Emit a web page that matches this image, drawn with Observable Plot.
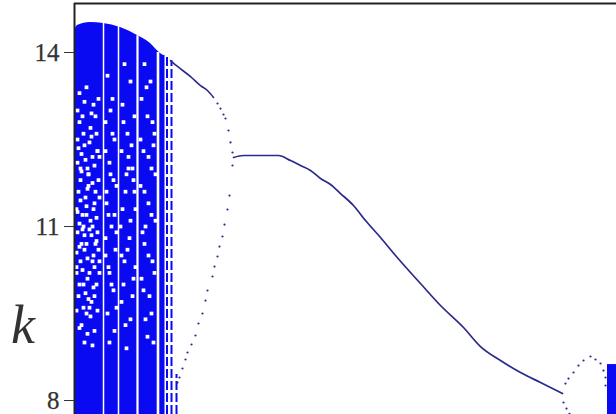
<!DOCTYPE html>
<html>
<head>
<meta charset="utf-8">
<script src="https://cdn.jsdelivr.net/npm/d3@7"></script>
<script src="https://cdn.jsdelivr.net/npm/@observablehq/plot@0.6"></script>
<style>
  html, body { margin: 0; padding: 0; background: #fff; }
  #wrap { position: relative; width: 616px; height: 414px; overflow: hidden; }
  #klabel { position: absolute; left: 11px; top: 298px; font: italic 54px "Liberation Serif", "Times New Roman", "DejaVu Serif", serif; color: #333; line-height: 1; }
  #wrap svg g[aria-label="y-axis tick label"],
  #wrap svg g[aria-label="y-axis tick label"] text { font-size: 25px !important; font-family: "Liberation Serif", "Times New Roman", "DejaVu Serif", serif !important; stroke: #333; stroke-width: 0.25px; }
</style>
</head>
<body>
<div id="wrap"><span id="klabel">k</span></div>
<script>
// ---- data (parameter on x, k on y) ----
const xDomain = [0, 5.42];
const yDomain = [7.759, 14.845];
const yTicks = [8, 11, 14];

// chaotic band: top envelope
const bandX   = [0.01, 0.03, 0.16, 0.29, 0.46, 0.63, 0.76, 0.86, 0.89];
const bandTop = [14.414, 14.466, 14.517, 14.500, 14.431, 14.293, 14.155, 13.983, 13.95];

// white windows inside the band
const gapX     = [0.29, 0.44, 0.63, 0.835];
const gapTop   = [14.50, 14.45, 14.29, 14.00];
const gapWidth = [1.5, 1.5, 2.2, 2.6];

// sparse columns right of the band
const colX   = [0.925, 0.97, 1.02];
const colTop = [13.93, 13.86, 8.45];

// white speckles inside the band
const speckX = [0.05,0.12,0.19,0.08,0.16,0.03,0.22,0.10,0.18,0.06,0.14,0.24,0.04,0.11,0.20,0.08,0.16,0.03,0.23,0.12,0.19,0.06,0.15,0.09,0.22,0.04,0.17,0.12,0.07,0.20,0.10,0.02,0.25,0.13,0.21,0.07,0.05,0.14,0.18,0.09,0.23,0.02,0.15,
  0.03,0.09,0.15,0.21,0.06,0.13,0.18,0.25,0.05,0.10,0.17,0.24,0.02,0.08,0.13,0.20,0.25,0.05,0.11,0.19,0.14,0.02,0.09,0.16,0.23,0.05,0.13,0.18,0.03,0.10,0.17,0.24,0.07,0.20,0.12,0.22,0.06,
  0.04,0.11,0.17,0.23,0.07,0.14,0.21,0.03,0.12,0.19,0.08,0.15,0.22,0.05,0.18,0.10,0.25,0.13,0.02,0.20,
  0.33,0.38,0.31,0.40,0.35,0.42,0.32,0.37,0.41,0.34,0.39,0.33,0.40,0.36,0.31,
  0.36,0.31,0.39,0.34,0.42,0.31,0.37,0.42,0.35,0.38,0.32,0.40,0.35,
  0.50,0.56,0.48,0.60,0.53,0.47,0.58,0.51,0.61,0.46,0.55,0.50,0.59,0.47,0.56,0.52,0.54,
  0.49,0.57,0.52,0.60,0.48,0.56,0.53,0.61,0.49,0.58,0.51,0.54,0.47,0.59,
  0.70,0.76,0.67,0.73,0.80,0.69,0.77,0.66,0.74,0.81,0.70,0.78,0.67,0.75,0.71,0.79,
  0.72,0.78,0.66,0.74,0.81,0.70,0.77,0.68,0.74,0.80,0.69,0.77,0.73,0.71,0.79];
const speckY = [13.3,13.4,13.1,12.9,12.7,12.5,12.6,12.4,12.2,12.0,11.9,11.8,11.6,11.5,11.4,11.2,11.1,10.9,10.9,10.7,10.5,10.4,10.2,10.0,10.0,9.8,9.7,9.5,9.3,9.2,9.0,11.3,12.2,12.0,10.7,10.7,12.8,11.7,11.0,11.0,12.3,10.2,9.6,
  12.1,12.6,12.45,12.9,11.8,11.65,11.75,11.5,11.05,10.85,10.85,10.6,10.55,10.25,10.45,10.3,10.2,10.0,9.85,9.95,9.75,9.55,9.6,9.45,9.55,9.25,9.15,8.95,13.0,13.15,12.95,13.2,12.25,12.05,11.35,11.15,11.45,
  12.35,12.15,12.55,12.3,11.95,11.9,11.6,11.25,11.2,11.3,10.95,10.95,10.75,10.65,10.4,10.6,10.4,10.1,10.3,9.8,
  13.6,13.2,12.8,12.5,12.1,11.7,11.4,11.0,10.6,10.3,9.9,9.5,9.2,11.9,10.8,
  13.0,12.3,11.8,11.2,10.9,10.5,10.0,9.6,9.0,12.6,11.6,11.2,10.2,
  13.8,13.5,13.1,12.9,12.6,12.3,12.0,11.6,11.3,11.0,10.8,10.4,10.1,9.7,9.4,8.9,12.2,
  12.8,12.4,11.9,11.6,11.3,11.1,10.6,10.3,10.0,9.8,9.3,12.0,10.5,11.8,
  13.8,13.5,13.2,12.9,12.6,12.3,12.0,11.7,11.4,11.1,10.7,10.4,10.1,9.8,9.4,9.0,
  13.4,12.8,12.5,12.2,11.9,11.6,11.2,10.9,10.5,10.2,9.9,9.5,9.1,11.0,12.4];

// single-valued branch leaving the band (dense part)
const upperX = [0.96, 1.03, 1.16, 1.26, 1.33, 1.39];
const upperY = [13.862, 13.759, 13.586, 13.431, 13.345, 13.224];

// sparse dots before the split
const upperDotX = [1.43, 1.46, 1.49, 1.51, 1.54, 1.56, 1.58];
const upperDotY = [13.121, 13.034, 12.931, 12.862, 12.655, 12.45, 12.276];

// lower dotted branch
const lowerDotX = [1.58,1.55,1.53,1.50,1.48,1.45,1.43,1.40,1.38,1.33,1.31,1.28,1.24,1.21,1.17,1.13,1.11,1.08,1.05,1.03];
const lowerDotY = [12.052,11.534,11.293,11.034,10.828,10.655,10.483,10.310,10.138,9.897,9.724,9.500,9.328,9.121,8.966,8.828,8.707,8.552,8.397,8.310];

// main curve
const mainX = [1.59,1.69,2.04,2.16,2.26,2.36,2.46,2.56,2.66,2.79,2.91,3.06,3.21,3.36,3.46,3.66,3.89,4.06,4.26,4.46,4.66,4.88];
const mainY = [12.19,12.224,12.224,12.138,12.052,11.966,11.828,11.724,11.569,11.362,11.103,10.810,10.500,10.207,10.017,9.638,9.259,8.931,8.690,8.483,8.310,8.121];

// small bump on the right
const bumpX = [4.91,4.94,4.99,5.04,5.09,5.16,5.21,5.26,5.29,5.31,5.31];
const bumpY = [8.293,8.379,8.483,8.603,8.690,8.759,8.707,8.638,8.517,8.397,8.259];
const bumpLowX = [4.89, 4.92, 4.95];
const bumpLowY = [7.966, 7.862, 7.77];

// right band
const rbandX = [5.33, 5.42];
const rbandTop = [8.62];

const BLUE = "#0a0af2";
const NAVY = "#2a2a8c";
const SERIF = "'Liberation Serif', 'Times New Roman', 'DejaVu Serif', serif";

const pts = (xs, ys) => xs.map((x, i) => ({x, y: ys[i]}));

const chart = Plot.plot({
  width: 616,
  height: 414,
  marginLeft: 74,
  marginRight: 0,
  marginTop: 3,
  marginBottom: 0,
  style: {background: "#fff", overflow: "visible", fontFamily: SERIF},
  x: {domain: xDomain, axis: null},
  y: {domain: yDomain, axis: null},
  marks: [
    Plot.areaY(pts(bandX, bandTop), {x: "x", y1: yDomain[0], y2: "y", fill: BLUE, curve: "monotone-x"}),
    Plot.rect([{x1: 0.89, x2: 0.905, y2: 13.95}], {x1: "x1", x2: "x2", y1: yDomain[0], y2: "y2", fill: BLUE}),
    Plot.ruleX(gapX.map((x, i) => ({x, top: gapTop[i], w: gapWidth[i]})), {x: "x", y1: yDomain[0], y2: "top", stroke: "white", strokeWidth: d => d.w}),
    Plot.dot(pts(speckX, speckY), {x: "x", y: "y", r: 2.1, fill: "white", stroke: "none", symbol: "square"}),
    Plot.ruleX(colX.map((x, i) => ({x, top: colTop[i]})), {x: "x", y1: yDomain[0], y2: "top", stroke: BLUE, strokeWidth: 2, strokeDasharray: "9,3"}),
    Plot.line(pts(upperX, upperY), {x: "x", y: "y", stroke: NAVY, strokeWidth: 1.6, curve: "monotone-x"}),
    Plot.dot(pts(upperDotX, upperDotY), {x: "x", y: "y", r: 1.1, fill: NAVY, stroke: "none"}),
    Plot.dot(pts(lowerDotX, lowerDotY), {x: "x", y: "y", r: 1.1, fill: NAVY, stroke: "none"}),
    Plot.line(pts(mainX, mainY), {x: "x", y: "y", stroke: NAVY, strokeWidth: 1.7, curve: "monotone-x"}),
    Plot.dot(pts(bumpX, bumpY), {x: "x", y: "y", r: 1.1, fill: NAVY, stroke: "none"}),
    Plot.dot(pts(bumpLowX, bumpLowY), {x: "x", y: "y", r: 1.1, fill: NAVY, stroke: "none"}),
    Plot.rect([{x1: rbandX[0], x2: rbandX[1], y2: rbandTop[0]}], {x1: "x1", x2: "x2", y1: yDomain[0], y2: "y2", fill: BLUE}),
    Plot.ruleY([yDomain[1]], {stroke: "#222", strokeWidth: 2}),
    Plot.ruleX([xDomain[0]], {stroke: "#222", strokeWidth: 2}),
    Plot.axisY({ticks: yTicks, tickSize: 10, tickPadding: 5, fontSize: 25, fontFamily: SERIF, color: "#333", stroke: "#333", label: null})
  ]
});
document.getElementById("wrap").prepend(chart);
</script>
</body>
</html>
